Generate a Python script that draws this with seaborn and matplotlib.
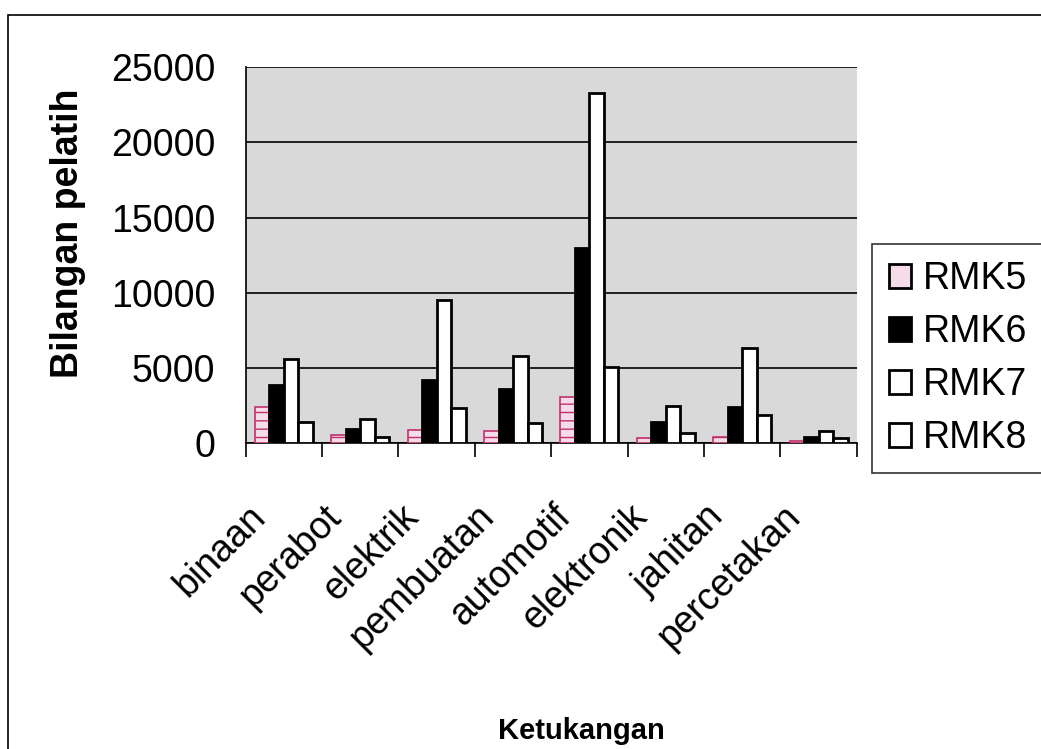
import numpy as np
import pandas as pd
import seaborn as sns
import matplotlib.pyplot as plt
import matplotlib.transforms as mtransforms
from matplotlib.ticker import FixedLocator

# =========================================
# DATA
# =========================================
categories = ['binaan', 'perabot', 'elektrik', 'pembuatan',
              'automotif', 'elektronik', 'jahitan', 'percetakan']
series_names = ['RMK5', 'RMK6', 'RMK7', 'RMK8']
rmk5 = [2400, 530, 860, 800, 3060, 330, 400, 100]
rmk6 = [3860, 930, 4200, 3590, 13000, 1400, 2400, 400]
rmk7 = [5580, 1600, 9500, 5780, 23300, 2460, 6300, 800]
rmk8 = [1400, 400, 2330, 1330, 5050, 660, 1860, 330]

df = pd.DataFrame({
    'Ketukangan': categories * 4,
    'Rancangan': [s for s in series_names for _ in categories],
    'Bilangan': rmk5 + rmk6 + rmk7 + rmk8,
})

# =========================================
# PLOT
# =========================================
sns.set_theme(style='white')
plt.rcParams['font.family'] = ['Liberation Sans', 'DejaVu Sans']
plt.rcParams['text.color'] = 'black'
plt.rcParams['axes.labelcolor'] = 'black'
plt.rcParams['xtick.color'] = 'black'
plt.rcParams['ytick.color'] = 'black'

fig = plt.figure(figsize=(10.41, 7.49), dpi=100)
ax = fig.add_axes([0.236, 0.409, 0.587, 0.501])
ax.set_facecolor('#d9d9d9')

palette = {'RMK5': '#f5dce8', 'RMK6': 'black', 'RMK7': 'white', 'RMK8': 'white'}
sns.barplot(data=df, x='Ketukangan', y='Bilangan', hue='Rancangan',
            palette=palette, width=0.76, edgecolor='black', linewidth=2,
            saturation=1, legend=True, ax=ax, zorder=3)

# pink hatched RMK5 bars
for bar in ax.containers[0]:
    bar.set_hatch('--')
    bar.set_edgecolor('#c2306e')
    bar.set_linewidth(1.2)

ax.set_ylim(0, 25000)
ax.set_xlim(-0.5, len(categories) - 0.5)
ax.set_yticks(np.arange(0, 25001, 5000))
ax.yaxis.grid(True, color='black', linewidth=1.2, zorder=1)
ax.set_axisbelow(True)

for side in ['top', 'right']:
    ax.spines[side].set_visible(False)
ax.spines['left'].set_color('black')
ax.spines['bottom'].set_color('black')
ax.spines['left'].set_linewidth(1.2)
ax.spines['bottom'].set_linewidth(1.2)

ax.tick_params(axis='y', which='major', direction='out', length=10,
               width=1.2, color='black', labelsize=27, pad=12)
ax.tick_params(axis='x', which='major', length=0, labelsize=27, pad=34)
ax.xaxis.set_minor_locator(FixedLocator(np.arange(-0.5, len(categories), 1)))
ax.tick_params(axis='x', which='minor', direction='out', length=10,
               width=1.2, color='black', bottom=True)

shift = mtransforms.ScaledTranslation(-0.24, -0.21, fig.dpi_scale_trans)
for lbl in ax.get_xticklabels():
    lbl.set_rotation(45)
    lbl.set_rotation_mode('anchor')
    lbl.set_ha('right')
    lbl.set_va('center')
    lbl.set_transform(lbl.get_transform() + shift)

ax.set_ylabel('Bilangan pelatih', fontsize=27, fontweight='bold')
ax.yaxis.set_label_coords(-0.262, 0.557)
ax.set_xlabel('Ketukangan', fontsize=21, fontweight='bold')
ax.xaxis.set_label_coords(0.549, -0.73)

handles, labels = ax.get_legend_handles_labels()
leg = ax.legend(handles, labels, loc='center left', bbox_to_anchor=(1.025, 0.224),
                fontsize=27, frameon=True, fancybox=False, handlelength=0.6,
                handleheight=0.6, handletextpad=0.3, labelspacing=0.45,
                borderpad=0.45, borderaxespad=0)
leg.get_frame().set_edgecolor('black')
leg.get_frame().set_linewidth(1.2)

# outer chart border
fig.patches.append(plt.Rectangle((0.008, -0.01), 1.0, 0.99, transform=fig.transFigure,
                                 fill=False, edgecolor='black', linewidth=1.2))

fig.savefig('out.png', dpi=100, facecolor='white')
